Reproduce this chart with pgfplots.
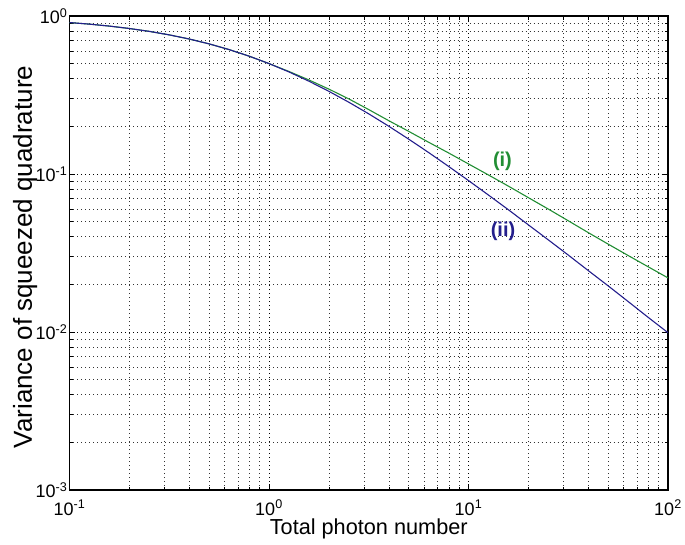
\documentclass[border=0pt]{standalone}
\usepackage{pgfplots}
\pgfplotsset{compat=1.18}
\usepackage{fontspec}
\setmainfont{Liberation Sans}

\definecolor{curveone}{RGB}{34,142,52}
\definecolor{curvetwo}{RGB}{35,30,140}

\begin{document}
\begin{tikzpicture}
\useasboundingbox (-69.5bp,-55bp) rectangle (615.5bp,490bp);
\begin{axis}[
  at={(0,0)}, anchor=south west,
  scale only axis, width=598.5bp, height=474bp,
  xmode=log, ymode=log,
  xmin=0.1, xmax=100, ymin=1e-3, ymax=1,
  xtick={0.1,1,10,100},
  ytick={0.001,0.01,0.1,1},
  minor xtick={0.2,0.3,0.4,0.5,0.6,0.7,0.8,0.9,2,3,4,5,6,7,8,9,20,30,40,50,60,70,80,90},
  minor ytick={0.002,0.003,0.004,0.005,0.006,0.007,0.008,0.009,0.02,0.03,0.04,0.05,0.06,0.07,0.08,0.09,0.2,0.3,0.4,0.5,0.6,0.7,0.8,0.9},
  xticklabels={10\textsuperscript{-1},10\textsuperscript{0},10\textsuperscript{1},10\textsuperscript{2}},
  yticklabels={10\textsuperscript{-3},10\textsuperscript{-2},10\textsuperscript{-1},10\textsuperscript{0}},
  tick label style={font=\fontsize{18bp}{20bp}\selectfont},
  xticklabel style={anchor=base, yshift=-25bp, inner sep=0pt},
  yticklabel style={anchor=east, inner sep=0pt, xshift=-2bp},
  tick align=inside, xtick pos=both, ytick pos=both,
  major tick length=6bp, minor tick length=3.5bp,
  every tick/.style={black, line width=0.8bp},
  axis line style={line width=1.2bp},
  grid=both,
  major grid style={black, line width=0.8bp, dash pattern=on 1bp off 3bp},
  minor grid style={black!80, line width=0.8bp, dash pattern=on 1bp off 3bp},
  xlabel={Total photon number},
  ylabel={Variance of squeezed quadrature},
  xlabel style={font=\fontsize{21.7bp}{24bp}\selectfont, at={([yshift=-44bp]axis description cs:0.5,0)}, anchor=base},
  ylabel style={font=\fontsize{26bp}{28bp}\selectfont, at={([xshift=-37.5bp,yshift=-4bp]axis description cs:0,0.5)}, anchor=base},
  clip=true,
]
% (i): measured variance
\addplot[curveone, line width=1.1bp] coordinates {
  (0.1,0.9091) (0.1259,0.8882) (0.1585,0.8632) (0.1995,0.8337) (0.2512,0.7993)
  (0.3162,0.7597) (0.3981,0.7153) (0.5012,0.6662) (0.6310,0.6131) (0.7943,0.5573)
  (1,0.5) (1.259,0.4457) (1.585,0.394) (1.995,0.3448) (2.512,0.2988)
  (3.162,0.2557) (3.981,0.2177) (5.012,0.1863) (6.310,0.1589) (7.943,0.1360)
  (10,0.1158) (12.59,0.0986) (15.85,0.0838) (19.95,0.0709) (25.12,0.0600)
  (31.62,0.0506) (39.81,0.0426) (50.12,0.0360) (63.10,0.0305) (79.43,0.0259)
  (100,0.0220)
};
% (ii): ideal variance 1/(1+N)
\addplot[curvetwo, line width=1.1bp] coordinates {
  (0.1,0.9091) (0.1259,0.8882) (0.1585,0.8632) (0.1995,0.8337) (0.2512,0.7993)
  (0.3162,0.7597) (0.3981,0.7153) (0.5012,0.6662) (0.6310,0.6131) (0.7943,0.5573)
  (1,0.5) (1.259,0.4427) (1.585,0.3869) (1.995,0.3339) (2.512,0.2847)
  (3.162,0.2403) (3.981,0.2008) (5.012,0.1663) (6.310,0.1368) (7.943,0.1118)
  (10,0.0909) (12.59,0.0736) (15.85,0.0594) (19.95,0.0477) (25.12,0.0383)
  (31.62,0.0307) (39.81,0.0245) (50.12,0.0196) (63.10,0.0156) (79.43,0.0124)
  (100,0.0099)
};
\node[curveone, font=\bfseries\fontsize{20bp}{22bp}\selectfont] at (axis cs:14.8,0.121) {(i)};
\node[curvetwo, font=\bfseries\fontsize{20bp}{22bp}\selectfont] at (axis cs:14.9,0.0436) {(ii)};
\end{axis}
\end{tikzpicture}
\end{document}
